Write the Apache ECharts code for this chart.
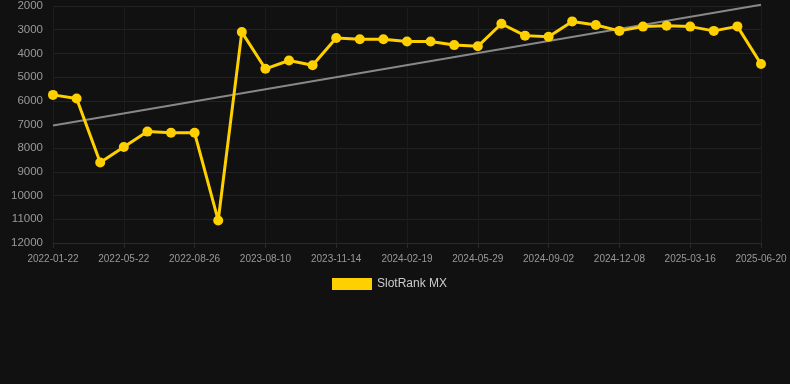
<!DOCTYPE html>
<html>
<head>
<meta charset="utf-8">
<script src="https://cdn.jsdelivr.net/npm/echarts@6/dist/echarts.min.js"></script>
<style>
html,body{margin:0;padding:0;background:#111111;}
#chart{width:790px;height:384px;}
</style>
</head>
<body>
<div id="chart"></div>
<script>
const categories = [
  '2022-01-22','2022-02-28','2022-04-15','2022-05-22','2022-06-24','2022-07-26','2022-08-26',
  '2022-10-05','2023-07-06','2023-08-10','2023-09-11','2023-10-13','2023-11-14','2023-12-16',
  '2024-01-17','2024-02-19','2024-03-22','2024-04-25','2024-05-29','2024-06-30','2024-08-01',
  '2024-09-02','2024-10-04','2024-11-06','2024-12-08','2025-01-09','2025-02-11','2025-03-16',
  '2025-04-17','2025-05-19','2025-06-20'
];
const rankValues = [
  5750, 5900, 8600, 7950, 7300, 7350, 7350,
  11050, 3100, 4650, 4300, 4500, 3350, 3400,
  3400, 3500, 3500, 3650, 3700, 2750, 3250,
  3300, 2650, 2800, 3050, 2870, 2830, 2870,
  3050, 2860, 4450
];
const trendStart = 7040;
const trendEnd = 1950;
const yTicks = { min: 2000, max: 12000, interval: 1000 };

const trendData = categories.map((c, i) =>
  i === 0 ? trendStart : (i === categories.length - 1 ? trendEnd : null));

const chart = echarts.init(document.getElementById('chart'));
chart.setOption({
  backgroundColor: '#111111',
  animation: false,
  grid: { left: 53, right: 29, top: 6, bottom: 141, containLabel: false },
  legend: {
    data: ['SlotRank MX'],
    top: 273,
    left: 327,
    itemWidth: 40,
    itemHeight: 12,
    itemGap: 10,
    icon: 'rect',
    textStyle: { color: '#cccccc', fontSize: 12, fontFamily: 'Liberation Sans, Arial, sans-serif' }
  },
  xAxis: {
    type: 'category',
    data: categories,
    boundaryGap: false,
    axisLine: { show: true, lineStyle: { color: '#2a2a2a' } },
    axisTick: { show: true, interval: 2, length: 5, lineStyle: { color: '#2a2a2a' } },
    axisLabel: { interval: 2, color: '#999999', fontSize: 10, margin: 11,
      fontFamily: 'Liberation Sans, Arial, sans-serif' },
    splitLine: { show: true, interval: 2, lineStyle: { color: '#1c1c1c' } }
  },
  yAxis: {
    type: 'value',
    inverse: true,
    min: yTicks.min,
    max: yTicks.max,
    interval: yTicks.interval,
    axisLine: { show: false },
    axisTick: { show: false },
    axisLabel: { color: '#999999', fontSize: 11.5, margin: 10,
      formatter: v => String(v),
      fontFamily: 'Liberation Sans, Arial, sans-serif' },
    splitLine: { show: true, lineStyle: { color: '#222222' } }
  },
  series: [
    {
      name: 'Trend',
      type: 'line',
      data: trendData,
      connectNulls: true,
      symbol: 'none',
      clip: false,
      lineStyle: { color: '#888888', width: 2 },
      z: 1,
      silent: true
    },
    {
      name: 'SlotRank MX',
      type: 'line',
      data: rankValues,
      symbol: 'circle',
      symbolSize: 10,
      itemStyle: { color: '#FFD000' },
      lineStyle: { color: '#FFD000', width: 3 },
      z: 2
    }
  ]
});
</script>
</body>
</html>
